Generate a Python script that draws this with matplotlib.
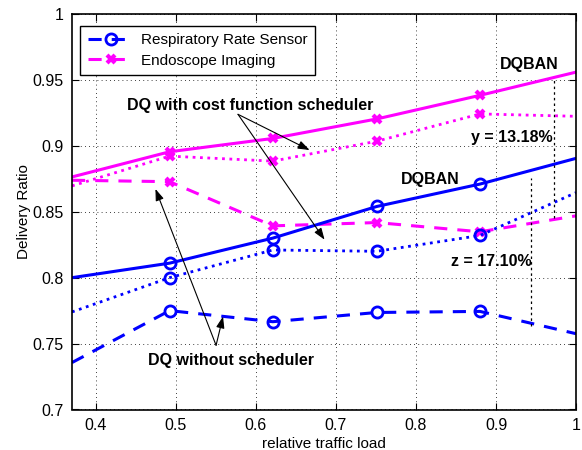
import matplotlib
matplotlib.use("Agg")
import matplotlib.pyplot as plt

plt.rcParams["font.family"] = ["Liberation Sans", "DejaVu Sans"]

# x positions (first/last are the axis edges, markers only on the inner ones)
load = [0.37, 0.492, 0.621, 0.751, 0.880, 1.0]

# Respiratory rate sensor (blue)
resp_dqban = [0.800, 0.811, 0.830, 0.854, 0.871, 0.8905]
resp_cost = [0.774, 0.800, 0.821, 0.820, 0.832, 0.8645]
resp_nosched = [0.7356, 0.775, 0.7666, 0.7736, 0.7744, 0.7575]

# Endoscope imaging (magenta)
endo_dqban = [0.8764, 0.8955, 0.9056, 0.9204, 0.9383, 0.9559]
endo_cost = [0.8696, 0.8922, 0.8884, 0.9035, 0.9242, 0.9224]
endo_nosched = [0.8739, 0.8728, 0.8393, 0.8418, 0.8348, 0.8469]

xticks = [0.4, 0.5, 0.6, 0.7, 0.8, 0.9, 1.0]
xticklabels = ["0.4", "0.5", "0.6", "0.7", "0.8", "0.9", "1"]
yticks = [0.7, 0.75, 0.8, 0.85, 0.9, 0.95, 1.0]
yticklabels = ["0.7", "0.75", "0.8", "0.85", "0.9", "0.95", "1"]

BLUE = (0, 0, 1)
MAG = (1, 0, 1)
dash = (0, (4.3, 3.3))
mk = [1, 2, 3, 4]

fig = plt.figure(figsize=(5.82, 4.5), dpi=100)
ax = fig.add_axes([0.1237, 0.09, 0.8660, 0.8789])

blue_o = dict(marker="o", ms=8, mew=2, mfc="none", markevery=mk)
mag_x = dict(marker="x", ms=6, mew=3, markevery=mk)

ax.plot(load, resp_nosched, color=BLUE, lw=2.2, ls=dash, label="Respiratory Rate Sensor", **blue_o)
ax.plot(load, endo_nosched, color=MAG, lw=2.2, ls=dash, label="Endoscope Imaging", **mag_x)
ax.plot(load, resp_dqban, color=BLUE, lw=2.2, ls="-", **blue_o)
ax.plot(load, resp_cost, color=BLUE, lw=2.0, ls=":", **blue_o)
ax.plot(load, endo_dqban, color=MAG, lw=2.2, ls="-", **mag_x)
ax.plot(load, endo_cost, color=MAG, lw=2.0, ls=":", **mag_x)

# gap markers
ax.plot([0.944, 0.944], [0.7635, 0.8755], color="k", lw=0.9, ls=(0, (2, 2.5)))
ax.plot([0.973, 0.973], [0.8452, 0.9505], color="k", lw=0.9, ls=(0, (2, 2.5)))

ax.set_xlim(0.37, 1.0)
ax.set_ylim(0.7, 1.0)
ax.set_xticks(xticks)
ax.set_xticklabels(xticklabels)
ax.set_yticks(yticks)
ax.set_yticklabels(yticklabels)
ax.tick_params(direction="in", length=5, width=0.8, top=True, right=True, labelsize=11.5, pad=6)
ax.grid(True, color="k", lw=0.6, ls=(0, (1, 4)))
for s in ax.spines.values():
    s.set_linewidth(1.2)

ax.set_xlabel("relative traffic load", fontsize=11, labelpad=3)
ax.set_ylabel("Delivery Ratio", fontsize=11, labelpad=1)

bold = dict(fontsize=11.5, fontweight="bold", ha="center", va="center")
ax.text(0.9418, 0.9617, "DQBAN", **bold)
ax.text(0.8179, 0.8748, "DQBAN", **bold)
ax.text(0.9196, 0.9066, "y = 13.18%", **bold)
ax.text(0.8947, 0.8122, "z = 17.10%", **bold)
ax.text(0.5925, 0.9307, "DQ with cost function scheduler", **bold)
ax.text(0.569, 0.7374, "DQ without scheduler", **bold)

arr = dict(arrowstyle="-|>,head_length=0.7,head_width=0.25", color="k", lw=0.8, shrinkA=0, shrinkB=0)
ax.annotate("", xy=(0.667, 0.8968), xytext=(0.5775, 0.9239), arrowprops=arr)
ax.annotate("", xy=(0.6857, 0.8288), xytext=(0.5775, 0.9239), arrowprops=arr)
ax.annotate("", xy=(0.5588, 0.7706), xytext=(0.5501, 0.7487), arrowprops=arr)
ax.annotate("", xy=(0.4743, 0.8673), xytext=(0.5501, 0.7487), arrowprops=arr)

leg = ax.legend(loc="upper left", bbox_to_anchor=(0.016, 0.97), borderaxespad=0,
                fontsize=11, handlelength=3, fancybox=False, framealpha=1,
                edgecolor="k", borderpad=0.5, labelspacing=0.4, handletextpad=0.5)
leg.get_frame().set_linewidth(1.0)

fig.savefig("out.png", dpi=100)
